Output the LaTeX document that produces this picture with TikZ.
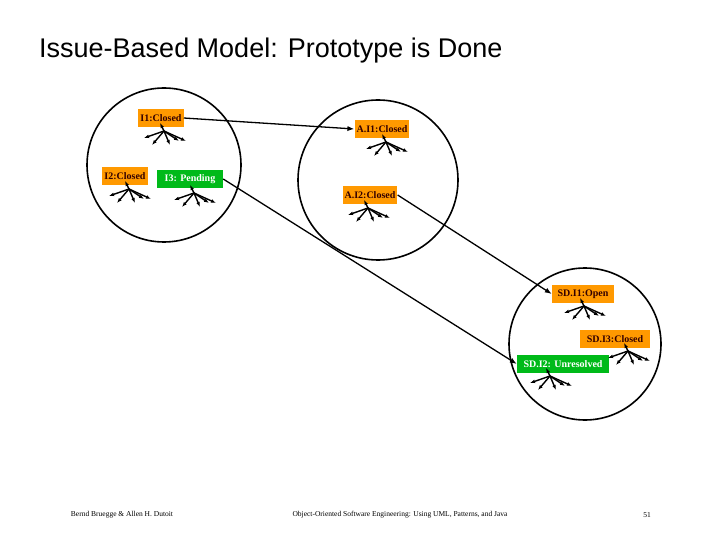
\documentclass[tikz,border=0pt]{standalone}
\usepackage{fontspec}
\setmainfont{Liberation Serif}
\newfontfamily\titlefont{Liberation Sans}
\usetikzlibrary{arrows.meta}
\begin{document}
\begin{tikzpicture}[x=1pt,y=-1pt,
  ob/.style={fill=orange!80!yellow,inner sep=2pt,minimum height=18pt,font=\bfseries\fontsize{10}{11}\selectfont,text=black!80!red},
  gb/.style={fill=green!70!black!90!cyan,inner sep=2pt,minimum height=18pt,font=\bfseries\fontsize{10}{11}\selectfont,text=white},
  circ/.style={draw,line width=1.6pt,circle},
  link/.style={-{Latex[length=7pt]},line width=1.3pt},
  fan/.pic={\foreach \d in {(-12,14),(-20,7),(15,10),(22,10),(6,14),(-4,-8)}{\draw[-{Latex[length=5pt]},line width=1.4pt] (0,0)--\d;}}]
\useasboundingbox (0,0) rectangle (720,540);
\node[font=\titlefont\fontsize{27}{30}\selectfont,anchor=west,inner sep=0pt] (title) at (39,51) {Issue-Based Model: Prototype is Done};
\node[circ,minimum size=154pt] (c1) at (164,165) {};
\node[circ,minimum size=160pt] (c2) at (378,180) {};
\node[circ,minimum size=152pt] (c3) at (585,344) {};
\node[ob] (i1) at (161,118) {I1:Closed};
\node[ob] (ai1) at (382,129) {A.I1:Closed};
\node[ob] (i2) at (125,176) {I2:Closed};
\node[gb,minimum width=66pt] (i3) at (190,179) {I3: Pending};
\node[ob] (ai2) at (370,195) {A.I2:Closed};
\node[ob,minimum width=62pt] (sd1) at (583,294) {SD.I1:Open};
\node[ob,minimum width=70pt] (sd3) at (615,339) {SD.I3:Closed};
\node[gb,minimum width=92pt] (sd2) at (563,364) {SD.I2: Unresolved};
\pic at (164,131) {fan};
\pic at (386,142) {fan};
\pic at (129,189) {fan};
\pic at (194,193) {fan};
\pic at (368,208) {fan};
\pic at (584,306) {fan};
\pic at (628,351) {fan};
\pic at (550,376) {fan};
\draw[link] (i1.east) -- (ai1.west);
\draw[link] (i3.east) -- (sd2.west);
\draw[link] (ai2.east) -- (sd1.west);
\node[font=\fontsize{7.5}{8}\selectfont] (f1) at (122,515) {Bernd Bruegge \& Allen H. Dutoit};
\node[font=\fontsize{7.5}{8}\selectfont] (f2) at (400,515) {Object-Oriented Software Engineering: Using UML, Patterns, and Java};
\node[font=\fontsize{7.5}{8}\selectfont] (f3) at (647,515) {51};
\end{tikzpicture}
\end{document}
